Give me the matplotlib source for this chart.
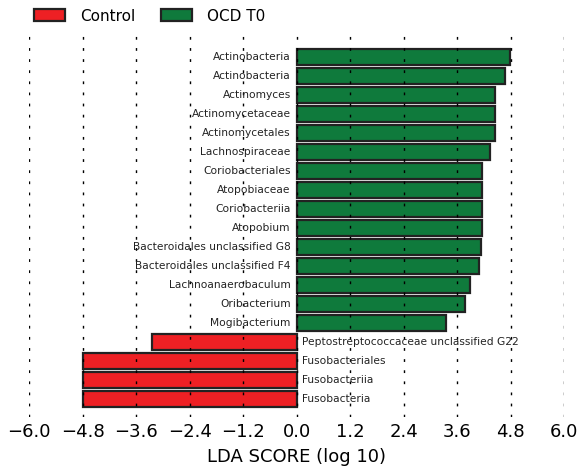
import numpy as np
import matplotlib
matplotlib.use("Agg")
import matplotlib.pyplot as plt

# features, top to bottom as shown
features = [
    "Actinobacteria", "Actinobacteria", "Actinomyces", "Actinomycetaceae",
    "Actinomycetales", "Lachnospiraceae", "Coriobacteriales", "Atopobiaceae",
    "Coriobacteriia", "Atopobium", "Bacteroidales unclassified G8",
    "Bacteroidales unclassified F4", "Lachnoanaerobaculum", "Oribacterium",
    "Mogibacterium", "Peptostreptococcaceae unclassified G22",
    "Fusobacteriales", "Fusobacteriia", "Fusobacteria",
]
lda_scores = [
    4.79, 4.68, 4.45, 4.45, 4.45, 4.33, 4.15, 4.15, 4.15, 4.15, 4.13,
    4.09, 3.89, 3.77, 3.35, -3.24, -4.78, -4.78, -4.78,
]
groups = ["OCD T0"] * 15 + ["Control"] * 4
group_names = ["Control", "OCD T0"]
group_colors = {"Control": "#ee2024", "OCD T0": "#0f7a3c"}
xticks = np.arange(-6.0, 6.01, 1.2)


def main():
    fig = plt.figure(figsize=(5.81, 4.66), dpi=100)
    ax = fig.add_axes([0.050, 0.105, 0.921, 0.824])

    n = len(features)
    ypos = np.arange(n)[::-1]
    for y, name, val, grp in zip(ypos, features, lda_scores, groups):
        ax.barh(y, val, height=0.8, color=group_colors[grp],
                edgecolor="#222222", linewidth=1.6, zorder=2)
        if val >= 0:
            ax.text(-0.13, y, name, ha="right", va="center", fontsize=7.7,
                    color="#222222", zorder=4)
        else:
            ax.text(0.13, y, name, ha="left", va="center", fontsize=7.7,
                    color="#222222", zorder=4)

    ax.set_xlim(-6.0, 6.0)
    ax.set_ylim(-0.95, n - 1 + 1.26)
    ax.set_xticks(xticks)
    ax.set_xticklabels(["\u2212%.1f" % -t if t < -1e-9 else "%.1f" % abs(t)
                        for t in xticks])
    ax.set_yticks([])
    ax.tick_params(axis="x", length=0, labelsize=13, pad=4.5)
    ax.xaxis.grid(True, linestyle=(0, (2, 6)), color="black", linewidth=1.0, zorder=3)
    ax.set_axisbelow(False)
    for s in ax.spines.values():
        s.set_visible(False)
    ax.set_xlabel("LDA SCORE (log 10)", fontsize=13, labelpad=5)

    handles = [plt.Rectangle((0, 0), 1, 1, facecolor=group_colors[g],
                             edgecolor="#222222", linewidth=1.6) for g in group_names]
    fig.legend(handles, group_names, loc="upper left", bbox_to_anchor=(0.035, 1.011),
               ncol=2, frameon=False, fontsize=11, handlelength=2.0,
               handleheight=0.8, columnspacing=1.7, handletextpad=1.0)

    fig.savefig("out.png", dpi=100)


if __name__ == "__main__":
    main()
